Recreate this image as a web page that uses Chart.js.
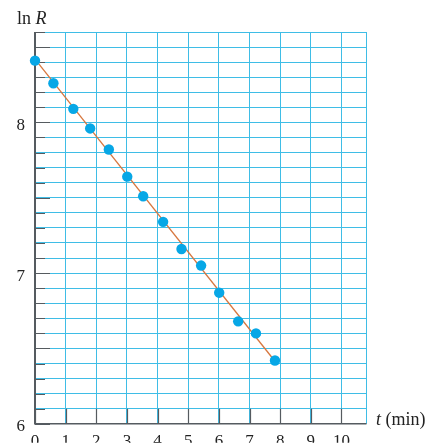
<!DOCTYPE html>
<html>
<head>
<meta charset="utf-8">
<script src="https://cdn.jsdelivr.net/npm/chart.js@4/dist/chart.umd.min.js"></script>
<style>
  html, body { margin: 0; padding: 0; background: #ffffff; }
  #wrap { width: 435px; height: 444px; }
</style>
</head>
<body>
<div id="wrap"><canvas id="c" width="435" height="444"></canvas></div>
<script>
// ---- data ----
const tValues = [0, 0.6, 1.25, 1.8, 2.41, 3.01, 3.53, 4.18, 4.78, 5.42, 6.01, 6.63, 7.21, 7.83];
const lnRValues = [8.41, 8.26, 8.09, 7.96, 7.82, 7.64, 7.51, 7.34, 7.16, 7.05, 6.87, 6.68, 6.60, 6.42];
const fitT = [0, 7.85];
const fitLnR = [8.42, 6.41];
const xTickLabels = ['0', '1', '2', '3', '4', '5', '6', '7', '8', '9', '10'];
const yTickLabels = ['6', '7', '8'];
const yAxisTitle = ['ln ', 'R'];
const xAxisTitle = ['t', ' (min)'];

const GRID = '#3fbde6';
const AXIS = '#555b60';
const SERIF = '"Liberation Serif", "Times New Roman", serif';

const framePlugin = {
  id: 'frame',
  beforeDatasetsDraw(chart) {
    const ctx = chart.ctx;
    const a = chart.chartArea;
    const xs = chart.scales.x, ys = chart.scales.y;
    ctx.save();
    // right border (cyan)
    ctx.strokeStyle = GRID;
    ctx.lineWidth = 1;
    ctx.beginPath();
    ctx.moveTo(Math.round(a.right) + 0.5, a.top);
    ctx.lineTo(Math.round(a.right) + 0.5, a.bottom);
    ctx.moveTo(a.left, Math.round(a.top) + 0.5);
    ctx.lineTo(a.right, Math.round(a.top) + 0.5);
    ctx.stroke();
    // inner tick marks on the y axis
    ctx.strokeStyle = AXIS;
    ctx.lineWidth = 1.2;
    ctx.beginPath();
    ys.ticks.forEach(t => {
      const v = t.value;
      const y = Math.round(ys.getPixelForValue(v)) + 0.5;
      const isHalf = Math.abs(v * 2 - Math.round(v * 2)) < 1e-6;
      const len = isHalf ? 15 : 10;
      ctx.moveTo(a.left, y);
      ctx.lineTo(a.left + len, y);
    });
    // inner tick marks on the x axis
    xs.ticks.forEach(t => {
      const x = Math.round(xs.getPixelForValue(t.value)) + 0.5;
      ctx.moveTo(x, a.bottom);
      ctx.lineTo(x, a.bottom - 15);
    });
    ctx.stroke();
    // bottom axis line
    ctx.lineWidth = 1.5;
    ctx.beginPath();
    ctx.moveTo(a.left, a.bottom);
    ctx.lineTo(a.right + 0.5, a.bottom);
    ctx.stroke();
    // left axis line
    ctx.lineWidth = 2;
    ctx.beginPath();
    ctx.moveTo(a.left, a.top);
    ctx.lineTo(a.left, a.bottom + 0.75);
    ctx.stroke();
    ctx.restore();
  },
  afterDraw(chart) {
    const ctx = chart.ctx;
    const a = chart.chartArea;
    ctx.save();
    ctx.fillStyle = '#222';
    ctx.textBaseline = 'alphabetic';
    ctx.textAlign = 'left';
    // y axis title: "ln R"
    let x = 17;
    ctx.font = '18px ' + SERIF;
    ctx.fillText(yAxisTitle[0], x, 24);
    x += ctx.measureText(yAxisTitle[0]).width;
    ctx.font = 'italic 18px ' + SERIF;
    ctx.fillText(yAxisTitle[1], x, 24);
    // x axis title: "t (min)"
    x = 376;
    ctx.font = 'italic 18px ' + SERIF;
    ctx.fillText(xAxisTitle[0], x, 425);
    x += ctx.measureText(xAxisTitle[0]).width;
    ctx.font = '18px ' + SERIF;
    ctx.fillText(xAxisTitle[1], x, 425);
    ctx.restore();
  }
};

new Chart(document.getElementById('c'), {
  type: 'scatter',
  data: {
    datasets: [
      {
        label: 'ln R',
        data: tValues.map((t, i) => ({ x: t, y: lnRValues[i] })),
        backgroundColor: '#07a7e6',
        borderColor: '#07a7e6',
        borderWidth: 0,
        pointRadius: 5.2,
        pointHoverRadius: 5.2,
        clip: false,
        order: 0
      },
      {
        label: 'fit',
        data: fitT.map((t, i) => ({ x: t, y: fitLnR[i] })),
        showLine: true,
        borderColor: '#d7773f',
        borderWidth: 1.3,
        pointRadius: 0,
        pointHoverRadius: 0,
        clip: false,
        order: 1
      }
    ]
  },
  options: {
    responsive: false,
    animation: false,
    events: [],
    layout: { padding: { top: 32, right: 69, left: 0, bottom: 0 } },
    plugins: { legend: { display: false }, tooltip: { enabled: false }, title: { display: false } },
    scales: {
      x: {
        type: 'linear',
        position: 'bottom',
        min: 0,
        max: 10.8,
        afterFit(s) { s.height = 19; },
        border: { display: false },
        grid: { color: GRID, lineWidth: 1, drawTicks: false },
        ticks: {
          stepSize: 1,
          includeBounds: false,
          autoSkip: false,
          maxRotation: 0,
          padding: 8,
          color: '#222',
          font: { family: SERIF, size: 17 },
          callback: (v) => {
            const s = String(Math.round(v));
            return (Math.abs(v - Math.round(v)) < 1e-6 && xTickLabels.includes(s)) ? s : '';
          }
        }
      },
      y: {
        type: 'linear',
        position: 'left',
        min: 6,
        max: 8.6,
        afterFit(s) { s.width = 35; },
        border: { display: false },
        grid: { color: GRID, lineWidth: 1, drawTicks: false },
        ticks: {
          stepSize: 0.1,
          maxTicksLimit: 100,
          autoSkip: false,
          padding: 10,
          labelOffset: 3,
          color: '#222',
          font: { family: SERIF, size: 17 },
          callback: (v) => {
            const s = String(Math.round(v));
            return (Math.abs(v - Math.round(v)) < 1e-6 && yTickLabels.includes(s)) ? s : '';
          }
        }
      }
    }
  },
  plugins: [framePlugin]
});
</script>
</body>
</html>
